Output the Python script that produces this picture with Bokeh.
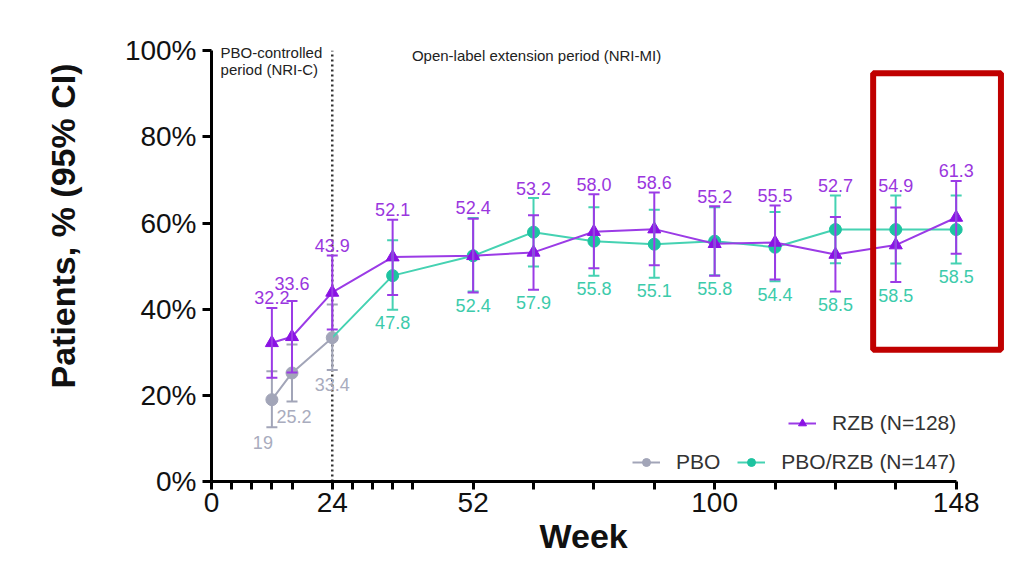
from bokeh.plotting import figure
from bokeh.models import (ColumnDataSource, Range1d, FixedTicker, PrintfTickFormatter,
                          Whisker, TeeHead, Label, Legend, LegendItem, BoxAnnotation, Title)
from bokeh.embed import file_html
from bokeh.resources import INLINE
from bokeh.core.properties import value

# ---------------- data ----------------
rzb_weeks = [12, 16, 24, 36, 52, 64, 76, 88, 100, 112, 124, 136, 148]
rzb_pct = [32.2, 33.6, 43.9, 52.1, 52.4, 53.2, 58.0, 58.6, 55.2, 55.5, 52.7, 54.9, 61.3]
rzb_lo = [24.1, 25.3, 35.3, 43.3, 43.9, 44.5, 49.5, 50.2, 47.8, 46.9, 44.1, 46.3, 52.9]
rzb_hi = [40.3, 41.9, 52.5, 60.8, 61.0, 61.8, 66.7, 67.1, 63.9, 64.1, 61.4, 63.6, 69.8]

pbo_weeks = [12, 16, 24]
pbo_pct = [19.0, 25.2, 33.4]
pbo_lo = [12.6, 18.6, 25.9]
pbo_hi = [25.6, 31.8, 41.1]

sw_weeks = [36, 52, 64, 76, 88, 100, 112, 124, 136, 148]
sw_pct = [47.8, 52.4, 57.9, 55.8, 55.1, 55.8, 54.4, 58.5, 58.5, 58.5]
sw_lo = [39.9, 44.1, 49.9, 47.8, 47.3, 47.9, 46.5, 50.7, 50.6, 50.6]
sw_hi = [56.0, 61.2, 65.8, 63.7, 63.1, 63.7, 62.6, 66.4, 66.4, 66.4]

x_ticks = [0, 4, 8, 12, 16, 24, 28, 32, 36, 40, 52, 64, 76, 88, 100, 112, 124, 136, 148]
x_labeled = [0, 24, 52, 100, 148]
y_ticks = [0, 20, 40, 60, 80, 100]
split_week = 24
highlight_weeks = (131.5, 156.9)
highlight_pct = (30.6, 94.8)

# ---------------- styles ----------------
FONT = "Liberation Sans"
PURPLE = "#8A12E4"
PURPLE_LINE = "#9B3BE6"
PURPLE_TXT = "#9A36DE"
GREEN = "#1DC3A0"
GREEN_LINE = "#45D2B2"
GREEN_TXT = "#3CCBAB"
GREY = "#A2A5B8"
GREY_TXT = "#A9ACBE"

W, H = 1030, 564
p = figure(width=W, height=H, output_backend="svg", toolbar_location=None,
           x_range=Range1d(0, 158.4), y_range=Range1d(0, 102.4),
           min_border_left=211, min_border_right=W - 1008, min_border_top=40,
           min_border_bottom=H - 481)
p.outline_line_color = None
p.grid.visible = False
p.background_fill_color = "white"
p.border_fill_color = "white"

xa = p.xaxis[0]
xa.bounds = (0, 148)
xa.ticker = FixedTicker(ticks=x_ticks)
xa.major_label_overrides = {t: (str(t) if t in x_labeled else "") for t in x_ticks}
xa.minor_tick_line_color = None
xa.major_tick_in = 0
xa.major_tick_out = 8
xa.major_tick_line_width = 3
xa.axis_line_width = 3
xa.major_label_text_font = FONT
xa.major_label_text_font_size = "28px"
xa.major_label_text_color = "#111"
xa.major_label_standoff = 3

ya = p.yaxis[0]
ya.bounds = (0, 100)
ya.ticker = FixedTicker(ticks=y_ticks)
ya.formatter = PrintfTickFormatter(format="%d%%")
ya.minor_tick_line_color = None
ya.major_tick_in = 0
ya.major_tick_out = 9
ya.major_tick_line_width = 3
ya.axis_line_width = 3
ya.major_label_text_font = FONT
ya.major_label_text_font_size = "28px"
ya.major_label_text_color = "#111"
ya.major_label_standoff = 6

# axis titles
p.add_layout(Title(text="Week", align="left", offset=328, standoff=0,
                   text_font=FONT, text_font_size="34px", text_font_style="bold",
                   text_color="#111"), "below")
p.add_layout(Title(text="Patients, % (95% CI)", align="left", offset=93, standoff=80,
                   text_font=FONT, text_font_size="34px", text_font_style="bold",
                   text_color="#111"), "left")

# period split line
p.line(x=[split_week, split_week], y=[ya.bounds[0], ya.bounds[1]], line_color="#333333",
       line_width=2.5, line_dash="2 3")

# sources
src_pbo = ColumnDataSource(dict(x=pbo_weeks, y=pbo_pct, lo=pbo_lo, hi=pbo_hi))
src_sw = ColumnDataSource(dict(x=sw_weeks, y=sw_pct, lo=sw_lo, hi=sw_hi))
src_rzb = ColumnDataSource(dict(x=rzb_weeks, y=rzb_pct, lo=rzb_lo, hi=rzb_hi))

def add_whisker(src, color):
    w = Whisker(base="x", upper="hi", lower="lo", source=src, line_color=color, line_width=2,
                upper_head=TeeHead(size=11, line_color=color, line_width=2),
                lower_head=TeeHead(size=11, line_color=color, line_width=2), level="glyph")
    p.add_layout(w)

# PBO
add_whisker(src_pbo, GREY)
pbo_line = p.line("x", "y", source=src_pbo, line_color=GREY, line_width=2)
pbo_pts = p.scatter("x", "y", source=src_pbo, marker="circle", size=12, fill_color=GREY, line_color=GREY)

# PBO/RZB (line continues from last PBO point)
add_whisker(src_sw, GREEN_LINE)
sw_line = p.line(x=[pbo_weeks[-1]] + sw_weeks, y=[pbo_pct[-1]] + sw_pct, line_color=GREEN_LINE, line_width=2)
sw_pts = p.scatter("x", "y", source=src_sw, marker="circle", size=12, fill_color=GREEN, line_color=GREEN)

# RZB
add_whisker(src_rzb, PURPLE_LINE)
rzb_line = p.line("x", "y", source=src_rzb, line_color=PURPLE_LINE, line_width=2)
rzb_pts = p.scatter("x", "y", source=src_rzb, marker="triangle", size=13, fill_color=PURPLE, line_color=PURPLE)

# value labels
sw_ci = dict(zip(sw_weeks, zip(sw_lo, sw_hi)))
rzb_ci = dict(zip(rzb_weeks, zip(rzb_lo, rzb_hi)))
rzb_anchor = [max(h, sw_ci.get(w, (0, 0))[1]) for w, h in zip(rzb_weeks, rzb_hi)]
sw_anchor = [min(l, rzb_ci.get(w, (999, 0))[0]) for w, l in zip(sw_weeks, sw_lo)]
rzb_label_dy = [-10, -18] + [-10] * (len(rzb_weeks) - 2)

p.text(x=rzb_weeks, y=rzb_anchor, text=[f"{v:.1f}" for v in rzb_pct], y_offset=rzb_label_dy,
       text_align="center", text_baseline="middle", text_color=PURPLE_TXT,
       text_font=value(FONT), text_font_size="18px")
p.text(x=sw_weeks, y=sw_anchor, text=[f"{v:.1f}" for v in sw_pct], y_offset=13,
       text_align="center", text_baseline="middle", text_color=GREEN_TXT,
       text_font=value(FONT), text_font_size="18px")
p.text(x=pbo_weeks, y=pbo_lo, text=[f"{v:g}" for v in pbo_pct], y_offset=15, x_offset=[-9, 2, 0],
       text_align="center", text_baseline="middle", text_color=GREY_TXT,
       text_font=value(FONT), text_font_size="18px")

# period annotations
for txt, yy in (("PBO-controlled", 99.5), ("period (NRI-C)", 95.7)):
    p.add_layout(Label(x=1.8, y=yy, text=txt, text_align="left", text_baseline="middle",
                       text_font=FONT, text_font_size="15px", text_color="#222222"))
p.add_layout(Label(x=64.6, y=98.9, text="Open-label extension period (NRI-MI)", text_align="center",
                   text_baseline="middle", text_font=FONT, text_font_size="15px", text_color="#222222"))

# highlight box
p.add_layout(BoxAnnotation(left=highlight_weeks[0], right=highlight_weeks[1],
                           bottom=highlight_pct[0], top=highlight_pct[1],
                           fill_alpha=0, line_color="#C00000", line_alpha=1.0,
                           line_width=6, level="overlay"))

# legends
def style_legend(lg):
    lg.padding = 0
    lg.margin = 0
    lg.border_line_color = None
    lg.background_fill_alpha = 0
    lg.label_text_font = FONT
    lg.label_text_font_size = "21px"
    lg.label_text_color = "#333333"
    lg.glyph_width = 28
    lg.glyph_height = 20
    lg.label_standoff = 16
    lg.spacing = 17

leg1 = Legend(items=[LegendItem(label="RZB (N=128)", renderers=[rzb_line, rzb_pts])], location=(577, 46))
leg2 = Legend(items=[LegendItem(label="PBO", renderers=[pbo_line, pbo_pts]),
                     LegendItem(label="PBO/RZB (N=147)", renderers=[sw_line, sw_pts])],
              orientation="horizontal", location=(421, 7))
for lg in (leg1, leg2):
    style_legend(lg)
    p.add_layout(lg, "center")

open("out.html", "w").write(file_html(p, INLINE))
